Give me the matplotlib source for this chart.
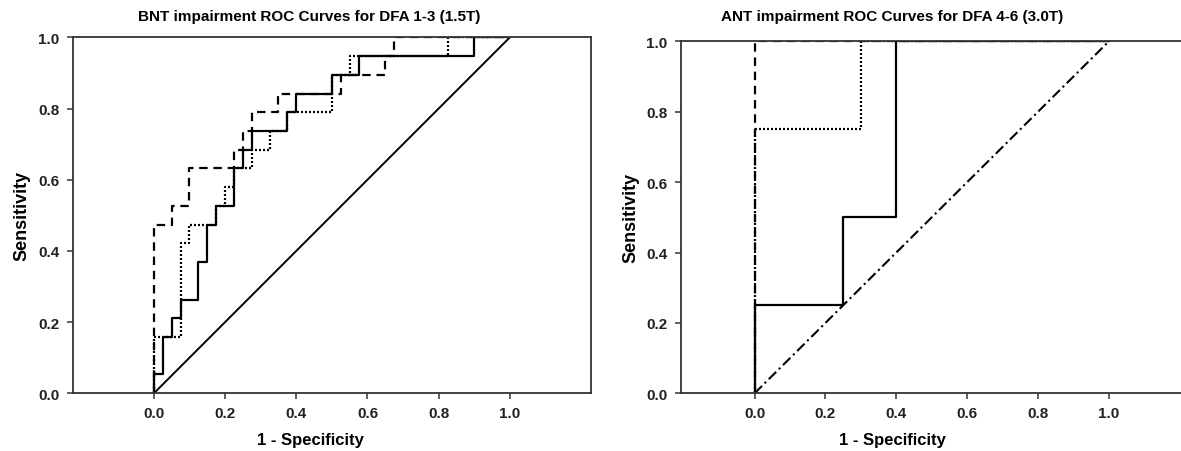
import matplotlib
matplotlib.use("Agg")
import matplotlib.pyplot as plt

plt.rcParams['font.family'] = ['Liberation Sans', 'DejaVu Sans']

# ---- BNT (DFA 1-3, 1.5T) step curves: (1 - specificity, sensitivity) corners
bnt_solid_x = [0, 0, 0.025, 0.025, 0.05, 0.05, 0.075, 0.075, 0.125, 0.125, 0.15, 0.15,
               0.175, 0.175, 0.225, 0.225, 0.25, 0.25, 0.275, 0.275, 0.375, 0.375,
               0.4, 0.4, 0.5, 0.5, 0.575, 0.575, 0.9, 0.9, 1.0]
bnt_solid_y = [0, 0.053, 0.053, 0.158, 0.158, 0.211, 0.211, 0.263, 0.263, 0.368, 0.368, 0.474,
               0.474, 0.526, 0.526, 0.632, 0.632, 0.684, 0.684, 0.737, 0.737, 0.789,
               0.789, 0.842, 0.842, 0.895, 0.895, 0.947, 0.947, 1.0, 1.0]

bnt_dash_x = [0, 0, 0.05, 0.05, 0.1, 0.1, 0.225, 0.225, 0.25, 0.25, 0.275, 0.275,
              0.35, 0.35, 0.525, 0.525, 0.65, 0.65, 0.675, 0.675, 1.0]
bnt_dash_y = [0, 0.474, 0.474, 0.526, 0.526, 0.632, 0.632, 0.684, 0.684, 0.737, 0.737, 0.789,
              0.789, 0.842, 0.842, 0.895, 0.895, 0.947, 0.947, 1.0, 1.0]

bnt_dot_x = [0, 0, 0.075, 0.075, 0.1, 0.1, 0.175, 0.175, 0.2, 0.2, 0.225, 0.225,
             0.275, 0.275, 0.325, 0.325, 0.375, 0.375, 0.5, 0.5, 0.55, 0.55,
             0.825, 0.825, 1.0]
bnt_dot_y = [0, 0.158, 0.158, 0.421, 0.421, 0.474, 0.474, 0.526, 0.526, 0.579, 0.579, 0.632,
             0.632, 0.684, 0.684, 0.737, 0.737, 0.789, 0.789, 0.895, 0.895, 0.947,
             0.947, 1.0, 1.0]

# ---- ANT (DFA 4-6, 3.0T)
ant_solid_x = [0, 0, 0.25, 0.25, 0.4, 0.4, 1.0]
ant_solid_y = [0, 0.25, 0.25, 0.5, 0.5, 1.0, 1.0]
ant_dash_x = [0, 0, 1.0]
ant_dash_y = [0, 1.0, 1.0]
ant_dot_x = [0, 0, 0.3, 0.3, 1.0]
ant_dot_y = [0, 0.75, 0.75, 1.0, 1.0]

ref_line = [0, 1]
ticks = [0.0, 0.2, 0.4, 0.6, 0.8, 1.0]
tick_labels = ['0.0', '0.2', '0.4', '0.6', '0.8', '1.0']

W, H = 1181, 452
fig = plt.figure(figsize=(W / 100, H / 100), dpi=100)

ax1 = fig.add_axes([72.7 / W, 57.7 / H, 518 / W, 356 / H])
ax2 = fig.add_axes([680.7 / W, 57.7 / H, 502.3 / W, 352 / H])

dash = (0, (3.8, 2.6))
dot = (0, (0.9, 0.9))

ax1.plot(bnt_solid_x, bnt_solid_y, color='black', lw=1.6)
ax1.plot(bnt_dash_x, bnt_dash_y, color='black', lw=1.6, linestyle=dash)
ax1.plot(bnt_dot_x, bnt_dot_y, color='black', lw=1.6, linestyle=dot)
ax1.plot(ref_line, ref_line, color='black', lw=1.4)

ax2.plot(ant_solid_x, ant_solid_y, color='black', lw=1.6)
ax2.plot(ant_dash_x, ant_dash_y, color='black', lw=1.6, linestyle=dash)
ax2.plot(ant_dot_x, ant_dot_y, color='black', lw=1.6, linestyle=dot)
ax2.plot(ref_line, ref_line, color='black', lw=1.5, linestyle=(0, (5, 1.8, 1, 1.8)))

ax1.set_xlim(-0.228, 1.227)
ax2.set_xlim(-0.2085, 1.209)

for ax in (ax1, ax2):
    ax.set_ylim(0, 1)
    ax.set_xticks(ticks)
    ax.set_xticklabels(tick_labels)
    ax.set_yticks(ticks)
    ax.set_yticklabels(tick_labels)
    for s in ax.spines.values():
        s.set_color('#333333')
        s.set_linewidth(1.3)
    ax.tick_params(direction='out', length=4.5, width=1.1, color='#333333',
                   labelsize=11, pad=5)
    for lab in ax.get_xticklabels() + ax.get_yticklabels():
        lab.set_fontweight('bold')
        lab.set_color('#222222')

fig.text(309 / W, 1 - 17 / H, 'BNT impairment ROC Curves for DFA 1-3 (1.5T)',
         ha='center', va='center', fontsize=11, fontweight='bold')
fig.text(892 / W, 1 - 17 / H, 'ANT impairment ROC Curves for DFA 4-6 (3.0T)',
         ha='center', va='center', fontsize=11, fontweight='bold')

fig.text(310 / W, 1 - 441 / H, '1 - Specificity', ha='center', va='center',
         fontsize=12, fontweight='bold')
fig.text(892 / W, 1 - 441 / H, '1 - Specificity', ha='center', va='center',
         fontsize=12, fontweight='bold')
fig.text(22 / W, 1 - 216 / H, 'Sensitivity', ha='center', va='center',
         rotation=90, fontsize=13, fontweight='bold')
fig.text(631 / W, 1 - 218 / H, 'Sensitivity', ha='center', va='center',
         rotation=90, fontsize=13, fontweight='bold')

fig.savefig('out.png', dpi=100)
